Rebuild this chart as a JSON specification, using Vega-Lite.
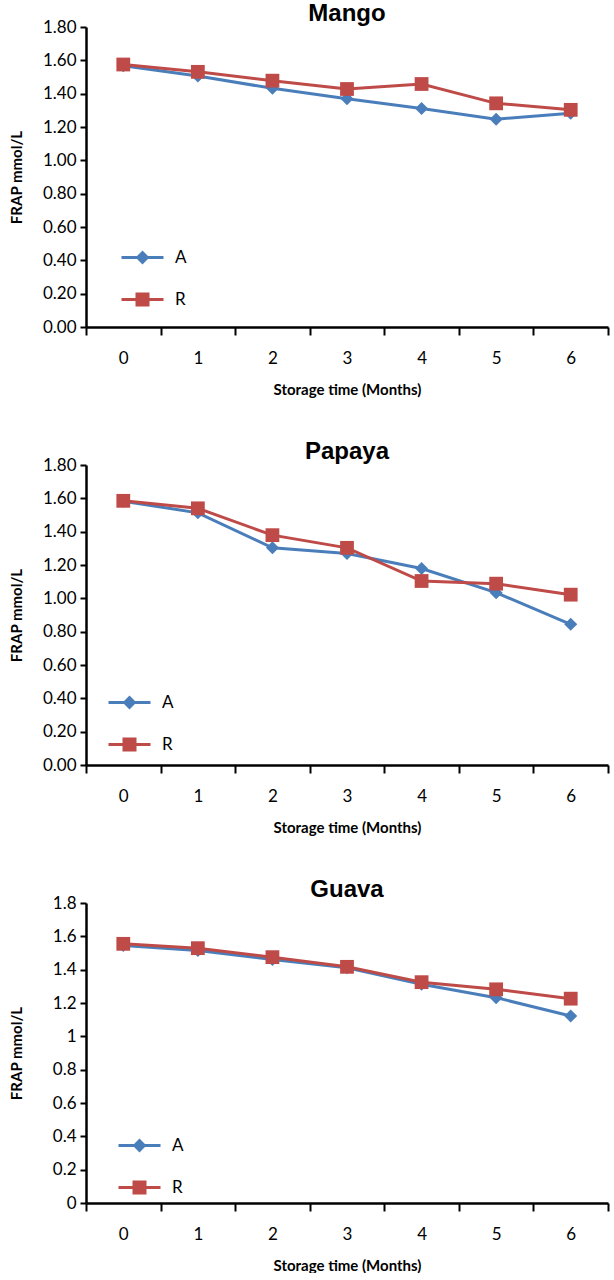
{
  "$schema": "https://vega.github.io/schema/vega-lite/v6.json",
  "padding": {"left": 9, "top": 2, "right": 2, "bottom": 0},
  "spacing": 43,
  "data": {"values": [
    {"fruit": "Mango", "series": "A", "month": 0, "value": 1.567},
    {"fruit": "Mango", "series": "A", "month": 1, "value": 1.506},
    {"fruit": "Mango", "series": "A", "month": 2, "value": 1.432},
    {"fruit": "Mango", "series": "A", "month": 3, "value": 1.37},
    {"fruit": "Mango", "series": "A", "month": 4, "value": 1.311},
    {"fruit": "Mango", "series": "A", "month": 5, "value": 1.247},
    {"fruit": "Mango", "series": "A", "month": 6, "value": 1.283},
    {"fruit": "Mango", "series": "R", "month": 0, "value": 1.575},
    {"fruit": "Mango", "series": "R", "month": 1, "value": 1.531},
    {"fruit": "Mango", "series": "R", "month": 2, "value": 1.478},
    {"fruit": "Mango", "series": "R", "month": 3, "value": 1.428},
    {"fruit": "Mango", "series": "R", "month": 4, "value": 1.458},
    {"fruit": "Mango", "series": "R", "month": 5, "value": 1.342},
    {"fruit": "Mango", "series": "R", "month": 6, "value": 1.303},
    {"fruit": "Papaya", "series": "A", "month": 0, "value": 1.583},
    {"fruit": "Papaya", "series": "A", "month": 1, "value": 1.513},
    {"fruit": "Papaya", "series": "A", "month": 2, "value": 1.303},
    {"fruit": "Papaya", "series": "A", "month": 3, "value": 1.269},
    {"fruit": "Papaya", "series": "A", "month": 4, "value": 1.179},
    {"fruit": "Papaya", "series": "A", "month": 5, "value": 1.034},
    {"fruit": "Papaya", "series": "A", "month": 6, "value": 0.844},
    {"fruit": "Papaya", "series": "R", "month": 0, "value": 1.585},
    {"fruit": "Papaya", "series": "R", "month": 1, "value": 1.54},
    {"fruit": "Papaya", "series": "R", "month": 2, "value": 1.379},
    {"fruit": "Papaya", "series": "R", "month": 3, "value": 1.303},
    {"fruit": "Papaya", "series": "R", "month": 4, "value": 1.104},
    {"fruit": "Papaya", "series": "R", "month": 5, "value": 1.088},
    {"fruit": "Papaya", "series": "R", "month": 6, "value": 1.022},
    {"fruit": "Guava", "series": "A", "month": 0, "value": 1.545},
    {"fruit": "Guava", "series": "A", "month": 1, "value": 1.515},
    {"fruit": "Guava", "series": "A", "month": 2, "value": 1.461},
    {"fruit": "Guava", "series": "A", "month": 3, "value": 1.411},
    {"fruit": "Guava", "series": "A", "month": 4, "value": 1.312},
    {"fruit": "Guava", "series": "A", "month": 5, "value": 1.232},
    {"fruit": "Guava", "series": "A", "month": 6, "value": 1.122},
    {"fruit": "Guava", "series": "R", "month": 0, "value": 1.555},
    {"fruit": "Guava", "series": "R", "month": 1, "value": 1.529},
    {"fruit": "Guava", "series": "R", "month": 2, "value": 1.475},
    {"fruit": "Guava", "series": "R", "month": 3, "value": 1.417},
    {"fruit": "Guava", "series": "R", "month": 4, "value": 1.325},
    {"fruit": "Guava", "series": "R", "month": 5, "value": 1.282},
    {"fruit": "Guava", "series": "R", "month": 6, "value": 1.226}
  ]},
  "vconcat": [
    {
      "title": {"text": "Mango"},
      "width": 522, "height": 300,
      "transform": [{"filter": "datum.fruit === 'Mango'"}],
      "encoding": {
        "x": {"field": "month", "type": "ordinal", "scale": {"type": "band", "paddingInner": 0, "paddingOuter": 0},
              "axis": {"title": "Storage time (Months)", "labelAngle": 0, "tickBand": "extent", "tickSize": 8, "labelPadding": 15, "titlePadding": 16}},
        "y": {"field": "value", "type": "quantitative", "scale": {"domain": [0, 1.8], "nice": false},
              "axis": {"title": "FRAP mmol/L", "values": [0, 0.2, 0.4, 0.6, 0.8, 1.0, 1.2, 1.4, 1.6, 1.8], "format": ".2f", "tickSize": 6, "labelPadding": 4, "titlePadding": 14, "minExtent": 48, "maxExtent": 48}}
      },
      "layer": [
        {"mark": {"type": "line", "strokeWidth": 3},
         "encoding": {"stroke": {"field": "series", "type": "nominal", "scale": {"domain": ["R", "A"], "range": ["#BE4B48", "#4A7EBB"]}, "legend": null}}},
        {"mark": {"type": "point", "filled": true, "opacity": 1},
         "encoding": {
           "shape": {"field": "series", "type": "nominal", "scale": {"domain": ["R", "A"], "range": ["square", "diamond"]}, "legend": null},
           "size": {"field": "series", "type": "ordinal", "scale": {"domain": ["R", "A"], "range": [190, 170]}, "legend": null},
           "color": {"field": "series", "type": "nominal", "scale": {"domain": ["A", "R"], "range": ["#4A7EBB", "#BE4B48"]},
             "legend": {"title": null, "orient": "none", "legendX": 48, "legendY": 222, "padding": 0, "symbolSize": 196, "labelOffset": 24, "rowPadding": 24, "labelFont": "Lato", "labelFontSize": 17, "labelColor": "black", "symbolOpacity": 1,
               "encode": {"symbols": {"update": {"shape": {"signal": "datum.value === 'A' ? 'M-3,-0.22H-0.78L0,-1L0.78,-0.22H3V0.22H0.78L0,1L-0.78,0.22H-3Z' : 'M-3,-0.22H-1V-1H1V-0.22H3V0.22H1V1H-1V0.22H-3Z'"}}}}}}
         }}
      ]
    },
    {
      "title": {"text": "Papaya"},
      "width": 522, "height": 300,
      "transform": [{"filter": "datum.fruit === 'Papaya'"}],
      "encoding": {
        "x": {"field": "month", "type": "ordinal", "scale": {"type": "band", "paddingInner": 0, "paddingOuter": 0},
              "axis": {"title": "Storage time (Months)", "labelAngle": 0, "tickBand": "extent", "tickSize": 8, "labelPadding": 15, "titlePadding": 16}},
        "y": {"field": "value", "type": "quantitative", "scale": {"domain": [0, 1.8], "nice": false},
              "axis": {"title": "FRAP mmol/L", "values": [0, 0.2, 0.4, 0.6, 0.8, 1.0, 1.2, 1.4, 1.6, 1.8], "format": ".2f", "tickSize": 6, "labelPadding": 4, "titlePadding": 14, "minExtent": 48, "maxExtent": 48}}
      },
      "layer": [
        {"mark": {"type": "line", "strokeWidth": 3},
         "encoding": {"stroke": {"field": "series", "type": "nominal", "scale": {"domain": ["R", "A"], "range": ["#BE4B48", "#4A7EBB"]}, "legend": null}}},
        {"mark": {"type": "point", "filled": true, "opacity": 1},
         "encoding": {
           "shape": {"field": "series", "type": "nominal", "scale": {"domain": ["R", "A"], "range": ["square", "diamond"]}, "legend": null},
           "size": {"field": "series", "type": "ordinal", "scale": {"domain": ["R", "A"], "range": [190, 170]}, "legend": null},
           "color": {"field": "series", "type": "nominal", "scale": {"domain": ["A", "R"], "range": ["#4A7EBB", "#BE4B48"]},
             "legend": {"title": null, "orient": "none", "legendX": 35, "legendY": 229, "padding": 0, "symbolSize": 196, "labelOffset": 24, "rowPadding": 24, "labelFont": "Lato", "labelFontSize": 17, "labelColor": "black", "symbolOpacity": 1,
               "encode": {"symbols": {"update": {"shape": {"signal": "datum.value === 'A' ? 'M-3,-0.22H-0.78L0,-1L0.78,-0.22H3V0.22H0.78L0,1L-0.78,0.22H-3Z' : 'M-3,-0.22H-1V-1H1V-0.22H3V0.22H1V1H-1V0.22H-3Z'"}}}}}}
         }}
      ]
    },
    {
      "title": {"text": "Guava"},
      "width": 522, "height": 300,
      "transform": [{"filter": "datum.fruit === 'Guava'"}],
      "encoding": {
        "x": {"field": "month", "type": "ordinal", "scale": {"type": "band", "paddingInner": 0, "paddingOuter": 0},
              "axis": {"title": "Storage time (Months)", "labelAngle": 0, "tickBand": "extent", "tickSize": 8, "labelPadding": 15, "titlePadding": 16}},
        "y": {"field": "value", "type": "quantitative", "scale": {"domain": [0, 1.8], "nice": false},
              "axis": {"title": "FRAP mmol/L", "values": [0, 0.2, 0.4, 0.6, 0.8, 1.0, 1.2, 1.4, 1.6, 1.8], "format": "~g", "tickSize": 6, "labelPadding": 4, "titlePadding": 14, "minExtent": 48, "maxExtent": 48}}
      },
      "layer": [
        {"mark": {"type": "line", "strokeWidth": 3},
         "encoding": {"stroke": {"field": "series", "type": "nominal", "scale": {"domain": ["R", "A"], "range": ["#BE4B48", "#4A7EBB"]}, "legend": null}}},
        {"mark": {"type": "point", "filled": true, "opacity": 1},
         "encoding": {
           "shape": {"field": "series", "type": "nominal", "scale": {"domain": ["R", "A"], "range": ["square", "diamond"]}, "legend": null},
           "size": {"field": "series", "type": "ordinal", "scale": {"domain": ["R", "A"], "range": [190, 170]}, "legend": null},
           "color": {"field": "series", "type": "nominal", "scale": {"domain": ["A", "R"], "range": ["#4A7EBB", "#BE4B48"]},
             "legend": {"title": null, "orient": "none", "legendX": 45, "legendY": 234, "padding": 0, "symbolSize": 196, "labelOffset": 24, "rowPadding": 24, "labelFont": "Lato", "labelFontSize": 17, "labelColor": "black", "symbolOpacity": 1,
               "encode": {"symbols": {"update": {"shape": {"signal": "datum.value === 'A' ? 'M-3,-0.22H-0.78L0,-1L0.78,-0.22H3V0.22H0.78L0,1L-0.78,0.22H-3Z' : 'M-3,-0.22H-1V-1H1V-0.22H3V0.22H1V1H-1V0.22H-3Z'"}}}}}}
         }}
      ]
    }
  ],
  "resolve": {"scale": {"color": "independent", "stroke": "independent", "shape": "independent", "size": "independent"}},
  "config": {
    "view": {"stroke": null},
    "font": "Lato",
    "title": {"font": "Liberation Sans", "fontSize": 24, "fontWeight": "bold", "color": "black", "offset": -8, "anchor": "middle"},
    "axis": {"grid": false, "domainColor": "black", "domainWidth": 2.5, "tickColor": "black", "tickWidth": 2, "labelColor": "black", "labelFont": "Lato", "labelFontSize": 17, "titleFont": "Lato", "titleFontSize": 15, "titleFontWeight": "bold", "titleColor": "black"}
  }
}
